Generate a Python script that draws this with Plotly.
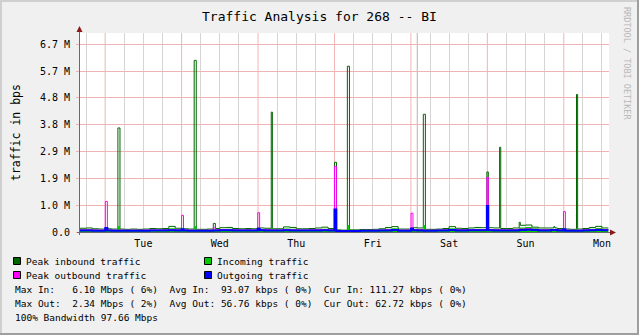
import plotly.graph_objects as go

# ---------------- data ----------------
# time axis: hours relative to Tuesday 00:00, baseline held in 2-hour blocks
BLOCK_START_H = -8
BLOCK_LEN_H = 2

peak_in_kbps = [140, 150, 120, 110,
                120, 110, 110, 100, 110, 100, 110, 130, 120, 130, 210, 140,
                120, 110, 100, 100, 110, 130, 160, 170, 130, 120, 130, 120,
                150, 140, 120, 120, 190, 170, 120, 120, 130, 150, 180, 130,
                80, 70, 80, 80, 90, 90, 100, 120, 170, 200, 110, 110,
                160, 150, 100, 100, 110, 130, 200, 140, 130, 150, 170, 160,
                160, 150, 130, 130, 150, 250, 260, 180, 150, 150, 150, 130,
                110, 100, 110, 130, 170, 210, 150]
incoming_kbps = [100, 110, 90, 85,
                 90, 85, 85, 80, 85, 80, 85, 95, 90, 100, 140, 105,
                 95, 85, 80, 80, 85, 95, 115, 120, 100, 95, 100, 95,
                 110, 105, 95, 95, 130, 120, 95, 95, 100, 110, 125, 100,
                 60, 55, 60, 60, 70, 70, 75, 90, 120, 140, 85, 85,
                 115, 110, 80, 80, 85, 100, 140, 105, 100, 110, 120, 115,
                 115, 110, 100, 100, 110, 170, 190, 140, 110, 110, 110, 100,
                 85, 80, 85, 100, 125, 150, 115]
peak_out_kbps = [80, 85, 75, 70,
                 75, 70, 70, 65, 70, 65, 70, 75, 75, 80, 90, 80,
                 75, 70, 65, 65, 70, 80, 85, 90, 80, 75, 80, 75,
                 90, 85, 75, 75, 90, 85, 75, 75, 80, 85, 90, 80,
                 55, 50, 55, 55, 60, 60, 65, 70, 85, 95, 70, 70,
                 90, 85, 65, 65, 70, 80, 95, 85, 80, 85, 90, 90,
                 90, 85, 80, 80, 85, 110, 120, 100, 85, 85, 95, 80,
                 70, 65, 70, 80, 90, 100, 85]
outgoing_kbps = [55, 60, 50, 50,
                 55, 50, 50, 45, 50, 45, 50, 55, 55, 60, 65, 60,
                 55, 50, 45, 45, 50, 60, 65, 65, 60, 55, 60, 55,
                 65, 60, 55, 55, 65, 60, 55, 55, 60, 60, 65, 60,
                 40, 35, 40, 40, 45, 45, 50, 55, 60, 70, 50, 50,
                 65, 60, 50, 50, 55, 60, 70, 60, 60, 65, 65, 65,
                 65, 60, 60, 60, 60, 75, 80, 70, 60, 60, 70, 60,
                 50, 50, 50, 55, 65, 70, 62]

# short bursts: (start hour, end hour, bps)
peak_in_spikes = [(4.0, 4.65, 3.88e6), (27.95, 28.6, 6.40e6), (33.95, 34.6, 0.32e6),
                  (52.15, 52.5, 4.47e6), (72.0, 72.65, 2.60e6), (76.05, 76.7, 6.18e6),
                  (99.9, 100.55, 4.39e6), (119.85, 120.3, 2.24e6), (123.85, 124.2, 3.16e6),
                  (130.0, 130.35, 0.36e6), (140.85, 141.2, 0.20e6), (148.0, 148.35, 5.13e6)]
incoming_spikes = [(4.0, 4.65, 0.22e6), (27.95, 28.6, 0.22e6), (52.15, 52.5, 0.15e6),
                   (72.0, 72.65, 0.88e6), (76.05, 76.7, 0.26e6), (99.9, 100.55, 0.26e6),
                   (119.85, 120.3, 1.0e6), (123.85, 124.2, 0.12e6), (148.0, 148.35, 0.15e6)]
peak_out_spikes = [(0.05, 0.7, 1.14e6), (24.0, 24.6, 0.62e6), (33.95, 34.6, 0.15e6),
                   (47.9, 48.5, 0.72e6), (72.0, 72.6, 2.45e6), (96.05, 96.65, 0.70e6),
                   (119.85, 120.3, 2.05e6), (143.9, 144.5, 0.76e6)]
outgoing_spikes = [(0.05, 0.7, 0.15e6), (24.0, 24.6, 0.10e6), (47.9, 48.5, 0.12e6),
                   (72.0, 72.6, 0.84e6), (96.05, 96.65, 0.12e6), (119.85, 120.3, 0.97e6),
                   (143.9, 144.5, 0.10e6)]

day_names = ["Tue", "Wed", "Thu", "Fri", "Sat", "Sun", "Mon"]
day_label_hours = [12, 36, 60, 84, 108, 132, 156]
midnight_hours = [0, 24, 48, 72, 96, 120, 144]
six_hour_hours = [-6, 6, 12, 18, 30, 36, 42, 54, 60, 66, 78, 84, 90, 102, 108, 114,
                  126, 132, 138, 150, 156]
vrule_hours = [98.0]

y_tick_vals = [0, 1e6, 2e6, 3e6, 4e6, 5e6, 6e6, 7e6]
y_tick_text = ["0.0", "1.0 M", "1.9 M", "2.9 M", "3.8 M", "4.8 M", "5.7 M", "6.7 M"]

legend_rows = [
    [("#006600", "Peak inbound traffic"), ("#00cc00", "Incoming traffic")],
    [("#ff00ff", "Peak outbound traffic"), ("#0000ff", "Outgoing traffic")],
]
stat_lines = [
    "Max In:   6.10 Mbps ( 6%)  Avg In:  93.07 kbps ( 0%)  Cur In: 111.27 kbps ( 0%)",
    "Max Out:  2.34 Mbps ( 2%)  Avg Out: 56.76 kbps ( 0%)  Cur Out: 62.72 kbps ( 0%)",
    "100% Bandwidth 97.66 Mbps",
]

# ---------------- layout geometry ----------------
W, H = 639, 335
L, R, T, B = 80, 30, 33, 103
PW, PH = W - L - R, H - T - B
X_RANGE = [-7.9, 158.2]
Y_RANGE = [0, 7.42e6]
MONO = "DejaVu Sans Mono"
GRID_MINOR = "#d4d4d4"
GRID_MAJOR = "#f1b4b4"


def pxx(x):
    return (x - L) / PW


def pxy(y):
    return (T + PH - y) / PH


def step_series(base_kbps, spikes):
    n = len(base_kbps)
    pts = set(BLOCK_START_H + BLOCK_LEN_H * i for i in range(n + 1))
    for s, e, _ in spikes:
        pts.add(s)
        pts.add(e)
    xs = sorted(pts)
    ys = []
    for x in xs:
        val = None
        for s, e, v in spikes:
            if s <= x < e:
                val = v
        if val is None:
            i = min(int((x - BLOCK_START_H) // BLOCK_LEN_H), n - 1)
            val = base_kbps[i] * 1000
        ys.append(val)
    return xs, ys


fig = go.Figure()
x1, y1 = step_series(peak_in_kbps, peak_in_spikes)
fig.add_trace(go.Scatter(x=x1, y=y1, mode="lines", line=dict(color="#006600", width=1, shape="hv"),
                         name="Peak inbound traffic"))
x2, y2 = step_series(incoming_kbps, incoming_spikes)
fig.add_trace(go.Scatter(x=x2, y=y2, mode="lines", line=dict(color="#00cc00", width=0, shape="hv"),
                         fill="tozeroy", fillcolor="#00cc00", name="Incoming traffic"))
x3, y3 = step_series(peak_out_kbps, peak_out_spikes)
fig.add_trace(go.Scatter(x=x3, y=y3, mode="lines", line=dict(color="#ff00ff", width=1, shape="hv"),
                         name="Peak outbound traffic"))
x4, y4 = step_series(outgoing_kbps, outgoing_spikes)
fig.add_trace(go.Scatter(x=x4, y=y4, mode="lines", line=dict(color="#0000ff", width=2, shape="hv"),
                         name="Outgoing traffic"))

shapes = []
# vertical grid (major, midnight) and a vertical rule
for h in midnight_hours:
    shapes.append(dict(type="line", xref="x", yref="paper", x0=h, x1=h, y0=0, y1=1,
                       line=dict(color=GRID_MAJOR, width=1), layer="below"))
for h in vrule_hours:
    shapes.append(dict(type="line", xref="x", yref="paper", x0=h, x1=h, y0=0, y1=1,
                       line=dict(color="#b4b4b4", width=1), layer="below"))

# axes lines and arrows
shapes.append(dict(type="line", xref="paper", yref="paper", x0=pxx(77), x1=pxx(611),
                   y0=pxy(232.5), y1=pxy(232.5), line=dict(color="#6a6a6a", width=1)))
shapes.append(dict(type="line", xref="paper", yref="paper", x0=pxx(79.5), x1=pxx(79.5),
                   y0=pxy(235), y1=pxy(31), line=dict(color="#6a6a6a", width=1)))
shapes.append(dict(type="path", xref="paper", yref="paper",
                   path=f"M {pxx(616)} {pxy(232.5)} L {pxx(610)} {pxy(229.5)} L {pxx(610)} {pxy(235.5)} Z",
                   fillcolor="#8b1a1a", line=dict(color="#8b1a1a", width=0)))
shapes.append(dict(type="path", xref="paper", yref="paper",
                   path=f"M {pxx(79.5)} {pxy(26)} L {pxx(76.5)} {pxy(32)} L {pxx(82.5)} {pxy(32)} Z",
                   fillcolor="#8b1a1a", line=dict(color="#8b1a1a", width=0)))

# outer shaded frame
shapes.append(dict(type="line", xref="paper", yref="paper", x0=pxx(0), x1=pxx(W), y0=pxy(1), y1=pxy(1),
                   line=dict(color="#cfcfcf", width=2)))
shapes.append(dict(type="line", xref="paper", yref="paper", x0=pxx(1), x1=pxx(1), y0=pxy(0), y1=pxy(H),
                   line=dict(color="#cfcfcf", width=2)))
shapes.append(dict(type="line", xref="paper", yref="paper", x0=pxx(0), x1=pxx(W), y0=pxy(H - 1), y1=pxy(H - 1),
                   line=dict(color="#9e9e9e", width=2)))
shapes.append(dict(type="line", xref="paper", yref="paper", x0=pxx(W - 1), x1=pxx(W - 1), y0=pxy(0), y1=pxy(H),
                   line=dict(color="#9e9e9e", width=2)))

annotations = []
# title
annotations.append(dict(text="Traffic Analysis for 268 -- BI", xref="paper", yref="paper",
                        x=pxx(319.5), y=pxy(16.5), xanchor="center", yanchor="middle", showarrow=False,
                        font=dict(family=MONO, size=13, color="#000000")))
# y title
annotations.append(dict(text="traffic in bps", xref="paper", yref="paper", x=pxx(16), y=pxy(133),
                        xanchor="center", yanchor="middle", textangle=-90, showarrow=False,
                        font=dict(family=MONO, size=11.5, color="#000000")))
# watermark
annotations.append(dict(text="RRDTOOL / TOBI OETIKER", xref="paper", yref="paper", x=pxx(627), y=pxy(63),
                        xanchor="center", yanchor="middle", textangle=90, showarrow=False,
                        font=dict(family=MONO, size=8.5, color="#b8b8b8")))

# legend
col_x = [13.5, 204.5]
row_y = [261, 275]
for r, row in enumerate(legend_rows):
    for c, (color, label) in enumerate(row):
        sx = col_x[c]
        sy = row_y[r]
        shapes.append(dict(type="rect", xref="paper", yref="paper",
                           x0=pxx(sx), x1=pxx(sx + 7), y0=pxy(sy - 3.5), y1=pxy(sy + 3.5),
                           fillcolor=color, line=dict(color="#000000", width=1)))
        annotations.append(dict(text=label.replace(" ", "\u00a0"), xref="paper", yref="paper",
                                x=pxx(sx + 11.5), y=pxy(sy), xanchor="left", yanchor="middle",
                                showarrow=False, borderpad=0,
                                font=dict(family=MONO, size=9.5, color="#000000")))
for i, line in enumerate(stat_lines):
    annotations.append(dict(text=line.replace(" ", "\u00a0"), xref="paper", yref="paper",
                            x=pxx(13.5), y=pxy(289 + 14 * i), xanchor="left", yanchor="middle",
                            showarrow=False, borderpad=0,
                            font=dict(family=MONO, size=9.5, color="#000000")))

fig.update_layout(
    width=W, height=H,
    margin=dict(l=L, r=R, t=T, b=B, pad=0),
    paper_bgcolor="#f0f0f0", plot_bgcolor="#ffffff",
    showlegend=False,
    shapes=shapes, annotations=annotations,
    xaxis=dict(range=X_RANGE, tickmode="array", tickvals=day_label_hours, ticktext=day_names,
               showgrid=False, zeroline=False, showline=False, ticks="", ticklabelstandoff=4,
               tickfont=dict(family=MONO, size=10, color="#000000"), fixedrange=True,
               minor=dict(tickmode="array", tickvals=six_hour_hours, showgrid=True,
                          gridcolor=GRID_MINOR, gridwidth=1, ticks="")),
    yaxis=dict(range=Y_RANGE, tickmode="array", tickvals=y_tick_vals, ticktext=y_tick_text,
               showgrid=True, gridcolor=GRID_MAJOR, gridwidth=1, zeroline=False, showline=False,
               ticks="outside", ticklen=3, tickcolor=GRID_MAJOR, ticklabelstandoff=4,
               tickfont=dict(family=MONO, size=10, color="#000000"), fixedrange=True),
)

fig.write_html("out.html")
